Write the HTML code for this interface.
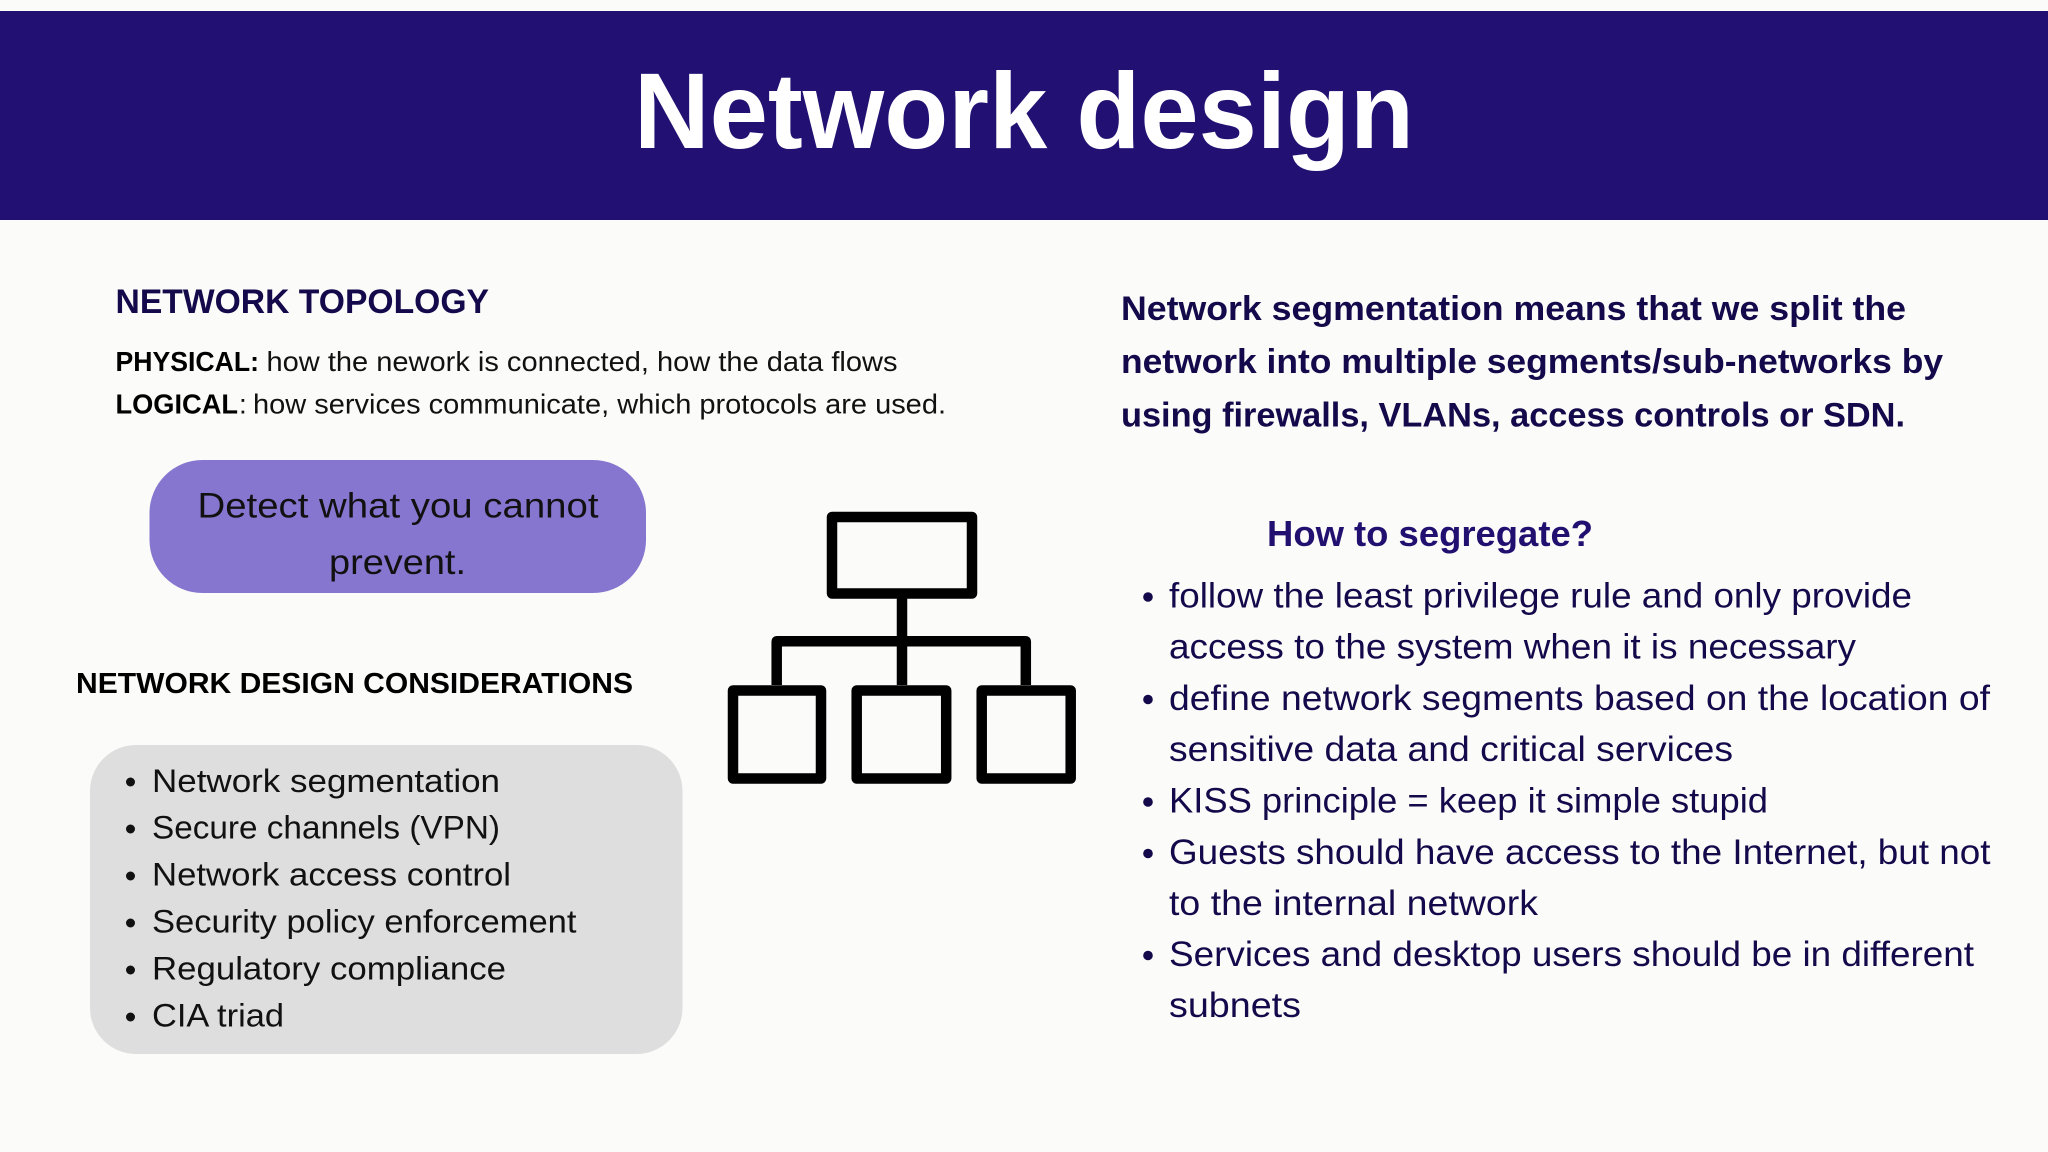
<!DOCTYPE html>
<html lang="en">
<head>
<meta charset="utf-8">
<title>Network design</title>
<style>
html,body{margin:0;padding:0;background:#fbfbf9;}
svg{display:block;}
text{font-family:"Liberation Sans",sans-serif;}
.b{font-weight:700;}
</style>
</head>
<body>
<svg xmlns="http://www.w3.org/2000/svg" width="2048" height="1152" viewBox="0 0 2048 1152">
<rect width="2048" height="1152" fill="#fbfbf9"/>
<rect x="0" y="11" width="2048" height="209" fill="#221172"/>
<text class="b" x="634" y="148" font-size="108" fill="#ffffff" textLength="780" lengthAdjust="spacingAndGlyphs">Network design</text>

<text class="b" x="115.5" y="313" font-size="34" fill="#14094a" textLength="373.5" lengthAdjust="spacingAndGlyphs">NETWORK TOPOLOGY</text>
<text class="b" x="115.5" y="371" font-size="28" fill="#000000" textLength="143.5" lengthAdjust="spacingAndGlyphs">PHYSICAL:</text>
<text x="266.5" y="371" font-size="28" fill="#111111" textLength="631" lengthAdjust="spacingAndGlyphs">how the nework is connected, how the data flows</text>
<text class="b" x="115.5" y="413.5" font-size="28" fill="#000000" textLength="122.5" lengthAdjust="spacingAndGlyphs">LOGICAL</text>
<text x="239" y="413.5" font-size="28" fill="#111111">:</text>
<text x="253" y="413.5" font-size="28" fill="#111111" textLength="693" lengthAdjust="spacingAndGlyphs">how services communicate, which protocols are used.</text>

<rect x="149.5" y="460" width="496.5" height="133" rx="53" ry="53" fill="#8676cf"/>
<text x="197.5" y="517.5" font-size="35" fill="#111111" textLength="401" lengthAdjust="spacingAndGlyphs">Detect what you cannot</text>
<text x="329" y="574" font-size="35" fill="#111111" textLength="137" lengthAdjust="spacingAndGlyphs">prevent.</text>

<text class="b" x="76" y="693" font-size="29" fill="#000000" textLength="557" lengthAdjust="spacingAndGlyphs">NETWORK DESIGN CONSIDERATIONS</text>

<rect x="90" y="745" width="592.5" height="309" rx="46" ry="46" fill="#dedede"/>
<g fill="#111111">
<circle cx="130.5" cy="782" r="4.5"/>
<circle cx="130.5" cy="829" r="4.5"/>
<circle cx="130.5" cy="876" r="4.5"/>
<circle cx="130.5" cy="923" r="4.5"/>
<circle cx="130.5" cy="970" r="4.5"/>
<circle cx="130.5" cy="1017" r="4.5"/>
</g>
<g font-size="32" fill="#111111">
<text x="152" y="792" textLength="348" lengthAdjust="spacingAndGlyphs">Network segmentation</text>
<text x="152" y="838.5" textLength="348" lengthAdjust="spacingAndGlyphs">Secure channels (VPN)</text>
<text x="152" y="885.5" textLength="359" lengthAdjust="spacingAndGlyphs">Network access control</text>
<text x="152" y="932.5" textLength="424.5" lengthAdjust="spacingAndGlyphs">Security policy enforcement</text>
<text x="152" y="979.5" textLength="354" lengthAdjust="spacingAndGlyphs">Regulatory compliance</text>
<text x="152" y="1026.5" textLength="132" lengthAdjust="spacingAndGlyphs">CIA triad</text>
</g>

<g fill="#fbfbf9" stroke="#000000" stroke-width="10.5" stroke-linejoin="round">
<rect x="832" y="517" width="140" height="76.5"/>
<rect x="733" y="690.5" width="88" height="88"/>
<rect x="856.7" y="690.5" width="89.5" height="88"/>
<rect x="981.7" y="690.5" width="89" height="88"/>
</g>
<g fill="none" stroke="#000000" stroke-width="10.5">
<path d="M902 598V685"/>
<path d="M776.7 685V641.2H1025.8V685" stroke-linejoin="round"/>
</g>

<g class="b" font-size="34" fill="#14094a" font-weight="700">
<text x="1121" y="320" textLength="785" lengthAdjust="spacingAndGlyphs">Network segmentation means that we split the</text>
<text x="1121" y="373" textLength="822" lengthAdjust="spacingAndGlyphs">network into multiple segments/sub-networks by</text>
<text x="1121" y="426.5" textLength="784" lengthAdjust="spacingAndGlyphs">using firewalls, VLANs, access controls or SDN.</text>
</g>
<text class="b" x="1267" y="546" font-size="36" fill="#21106f" textLength="326" lengthAdjust="spacingAndGlyphs">How to segregate?</text>

<g fill="#14094a">
<circle cx="1148" cy="597" r="4.8"/>
<circle cx="1148" cy="699.5" r="4.8"/>
<circle cx="1148" cy="802" r="4.8"/>
<circle cx="1148" cy="853.5" r="4.8"/>
<circle cx="1148" cy="955.5" r="4.8"/>
</g>
<g font-size="35" fill="#14094a">
<text x="1169" y="607.5" textLength="743" lengthAdjust="spacingAndGlyphs">follow the least privilege rule and only provide</text>
<text x="1169" y="658.5" textLength="687" lengthAdjust="spacingAndGlyphs">access to the system when it is necessary</text>
<text x="1169" y="710" textLength="821" lengthAdjust="spacingAndGlyphs">define network segments based on the location of</text>
<text x="1169" y="761" textLength="564" lengthAdjust="spacingAndGlyphs">sensitive data and critical services</text>
<text x="1169" y="812.5" textLength="599" lengthAdjust="spacingAndGlyphs">KISS principle = keep it simple stupid</text>
<text x="1169" y="864" textLength="821.5" lengthAdjust="spacingAndGlyphs">Guests should have access to the Internet, but not</text>
<text x="1169" y="915" textLength="369" lengthAdjust="spacingAndGlyphs">to the internal network</text>
<text x="1169" y="966" textLength="805" lengthAdjust="spacingAndGlyphs">Services and desktop users should be in different</text>
<text x="1169" y="1017" textLength="132" lengthAdjust="spacingAndGlyphs">subnets</text>
</g>
</svg>
</body>
</html>
